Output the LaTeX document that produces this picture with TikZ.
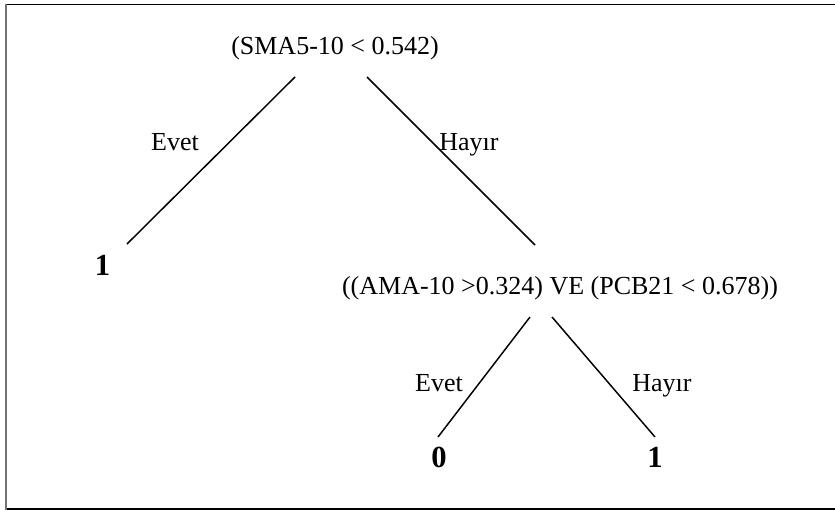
\documentclass[tikz,border=0pt]{standalone}
\usepackage{fontspec}
\setmainfont{Liberation Serif}
\begin{document}
\begin{tikzpicture}[x=0.75pt,y=-0.75pt,
  cond/.style={font=\fontsize{19.5}{23}\selectfont, inner sep=0pt, anchor=base},
  lbl/.style={font=\fontsize{19.5}{23}\selectfont, inner sep=0pt, anchor=base},
  leaf/.style={font=\fontsize{23}{27}\selectfont\bfseries, inner sep=0pt, anchor=base},
  edge/.style={line width=1.1pt},
  frame/.style={line width=0.9pt}]
\useasboundingbox (0,0) rectangle (835,510);
% frame
\draw[frame] (836,4.5) -- (6,4.5);
\draw[frame] (6,509) -- (836,509);
\draw[line width=1.5pt, black!55] (6,4) -- (6,509.5);
% nodes
\node[cond] (root) at (335,54.5) {(SMA5-10 < 0.542)};
\node[cond] (cond2) at (560,294) {((AMA-10 >0.324) VE (PCB21 < 0.678))};
\node[leaf] (leafA) at (102.5,275) {1};
\node[leaf] (leafB) at (439,467.5) {0};
\node[leaf] (leafC) at (655,467.5) {1};
\node[lbl] (yes1) at (175,150) {Evet};
\node[lbl] (no1) at (469,150) {Hayır};
\node[lbl] (yes2) at (439,391) {Evet};
\node[lbl] (no2) at (662,391) {Hayır};
% connector ends
\coordinate (rL) at (295,77);
\coordinate (rR) at (367,77);
\coordinate (aT) at (127,244);
\coordinate (cT) at (535,245);
\coordinate (cL) at (530,317);
\coordinate (cR) at (552,317);
\coordinate (bT) at (438,437);
\coordinate (dT) at (655,437);
\draw[edge] (rL) -- (aT);
\draw[edge] (rR) -- (cT);
\draw[edge] (cL) -- (bT);
\draw[edge] (cR) -- (dT);
\end{tikzpicture}
\end{document}
